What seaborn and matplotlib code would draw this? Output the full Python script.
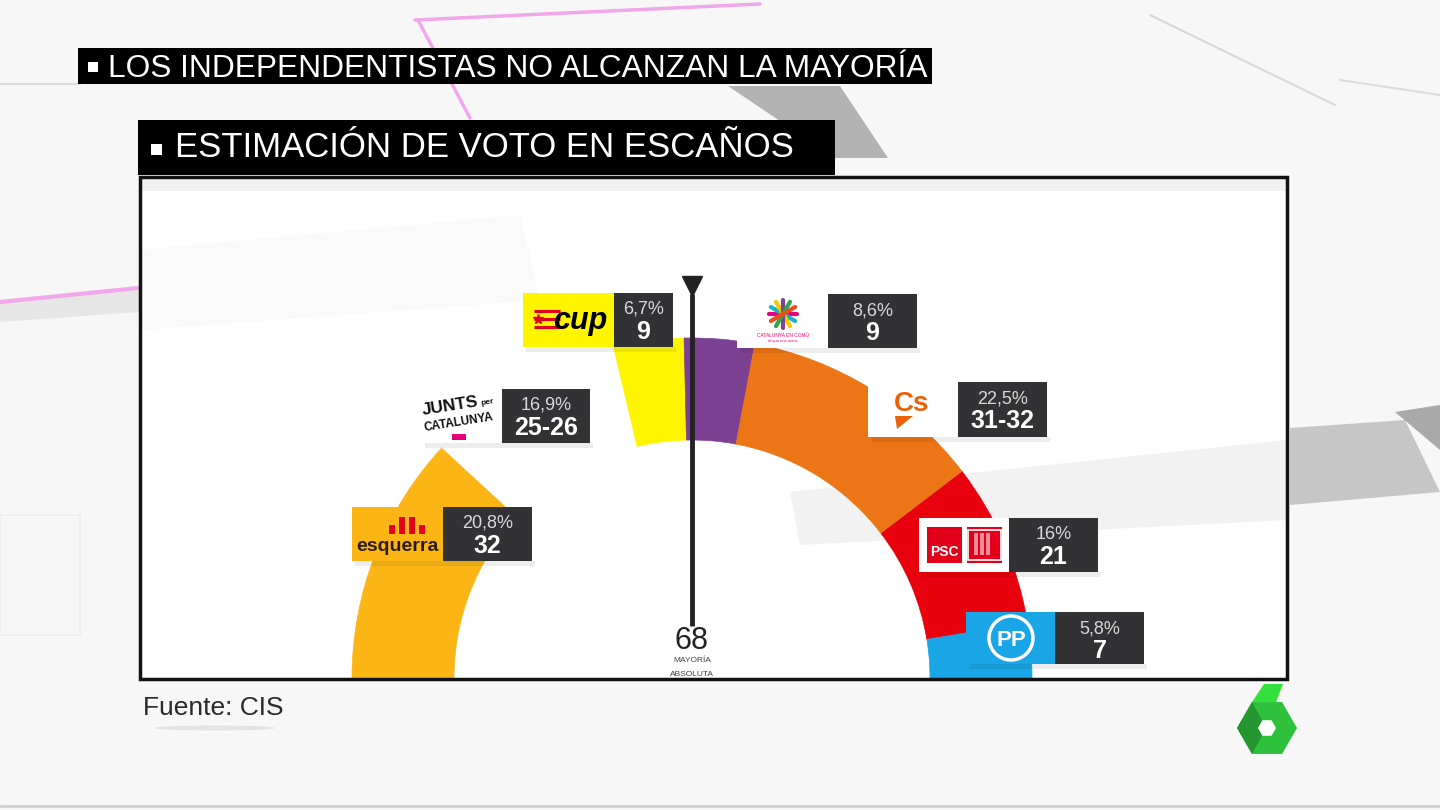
import numpy as np
import matplotlib.pyplot as plt
import matplotlib.patches as mpatches
import seaborn as sns

# Datos: estimacion CIS, escanos en el Parlament (135)
parties = ["ERC", "JxCat", "CUP", "CeC", "Cs", "PSC", "PP"]
seats = [32, 25.5, 9, 9, 31.5, 21, 7]
seat_labels = ["32", "25-26", "9", "9", "31-32", "21", "7"]
vote_share = ["20,8%", "16,9%", "6,7%", "8,6%", "22,5%", "16%", "5,8%"]
party_colors = ["#FBB616", "#FFFFFF", "#FFF500", "#7C4193", "#EC7515", "#E8000C", "#1AA6E6"]
total_seats = 135
majority = 68

title_main = "LOS INDEPENDENTISTAS NO ALCANZAN LA MAYORÍA"
title_sub = "ESTIMACIÓN DE VOTO EN ESCAÑOS"
source = "Fuente: CIS"

sns.set_theme(style="white")
plt.rcParams["font.family"] = ["Liberation Sans", "DejaVu Sans"]

W, H = 1440, 810
CX, CY, R_PX = 692, 678, 340        # centro del hemiciclo y radio exterior (px)
FRAME = (140, 177, 1287, 679)
R_IN = 0.70
DARK = "#323234"

# cajas: x logo, y arriba, x corte, x fin, y abajo (px)
BOXES = {
    "ERC": (352, 507, 443, 532, 561),
    "JxCat": (422, 389, 502, 590, 443),
    "CUP": (523, 293, 614, 673, 347),
    "CeC": (737, 294, 828, 917, 348),
    "Cs": (868, 382, 958, 1047, 437),
    "PSC": (919, 518, 1009, 1098, 572),
    "PP": (966, 612, 1055, 1144, 664),
}


def draw_background(ax):
    ax.add_patch(mpatches.Rectangle((0, 0), W, H, facecolor="#f7f7f7", lw=0))
    ax.add_patch(mpatches.Polygon([(1290, 428), (1405, 420), (1440, 492), (1290, 505)],
                                  closed=True, facecolor="#c6c6c6", lw=0))
    ax.add_patch(mpatches.Polygon([(1395, 412), (1440, 405), (1440, 450)],
                                  closed=True, facecolor="#a9a9a9", lw=0))
    ax.add_patch(mpatches.Polygon([(728, 86), (840, 86), (888, 158), (835, 158)],
                                  closed=True, facecolor="#b3b3b3", lw=0))
    ax.add_patch(mpatches.Polygon([(0, 300), (140, 288), (140, 312), (0, 322)],
                                  closed=True, facecolor="#e6e6e6", lw=0))
    ax.add_patch(mpatches.Rectangle((0, 515), 80, 120, facecolor="none",
                                    edgecolor="#eeeeee", lw=1.2))
    ax.plot([415, 760], [20, 4], color="#f2a6ec", lw=2.5)
    ax.plot([418, 470], [20, 118], color="#f2a6ec", lw=2.5)
    ax.plot([0, 138], [302, 288], color="#f2a6ec", lw=3)
    ax.plot([1150, 1335], [15, 105], color="#d8d8d8", lw=1.5)
    ax.plot([1340, 1440], [80, 95], color="#dcdcdc", lw=1.5)
    ax.plot([0, W], [806, 806], color="#cfcfcf", lw=2)
    ax.plot([0, 80], [84, 84], color="#dddddd", lw=1.5)
    # caja blanca del grafico (algo translucida)
    x0, y0, x1, y1 = FRAME
    ax.add_patch(mpatches.Rectangle((x0, y0), x1 - x0, y1 - y0, facecolor="white", lw=0))
    ax.add_patch(mpatches.Rectangle((x0, y0), x1 - x0, 14, facecolor="#f1f1f1", lw=0))
    ax.add_patch(mpatches.Polygon([(790, 492), (1287, 440), (1287, 520), (800, 545)],
                                  closed=True, facecolor="#f2f2f2", lw=0))
    ax.add_patch(mpatches.Polygon([(140, 250), (520, 215), (540, 300), (140, 330)],
                                  closed=True, facecolor="#fafafa", lw=0))


def draw_hemicycle(ax):
    start = 0.0
    for party, n, col in zip(parties, seats, party_colors):
        t2 = 180 - start / total_seats * 180
        t1 = 180 - (start + n) / total_seats * 180
        ax.add_patch(mpatches.Wedge((0, 0), 1.0, t1, t2, width=1 - R_IN,
                                    facecolor=col, edgecolor=col, lw=0.5))
        start += n

    # linea de mayoria absoluta
    theta = np.deg2rad(180 - (majority - 0.5) / total_seats * 180)
    xm = np.cos(theta)
    ax.plot([xm, xm], [(CY - 626) / R_PX, (CY - 294) / R_PX], color="#222222",
            lw=3.5, solid_capstyle="butt", zorder=5)
    ax.plot([xm], [(CY - 286) / R_PX], marker="v", markersize=15,
            color="#222222", zorder=6)
    ax.text(xm, (CY - 649) / R_PX, str(majority), ha="center", va="baseline",
            fontsize=22, color="#222222")
    ax.text(xm, (CY - 662) / R_PX, "MAYORÍA", ha="center", va="baseline",
            fontsize=6, color="#444444")
    ax.text(xm, (CY - 676) / R_PX, "ABSOLUTA", ha="center", va="baseline",
            fontsize=6, color="#444444")


def draw_logo(ax, party, x0, y0, x1, y1):
    w, h = x1 - x0, y1 - y0
    xc, yc = (x0 + x1) / 2, (y0 + y1) / 2
    if party == "ERC":
        ax.add_patch(mpatches.Rectangle((x0, y0), w, h, facecolor="#FBB616", lw=0))
        for bx, bh in zip([389, 399, 409, 419], [9, 17, 17, 9]):
            ax.add_patch(mpatches.Rectangle((bx, 534 - bh), 6, bh, facecolor="#E2001A", lw=0))
        ax.text(xc, 551, "esquerra", ha="center", va="baseline", fontsize=14,
                fontweight="bold", color="#2b1d0e")
    elif party == "JxCat":
        ax.add_patch(mpatches.Rectangle((x0, y0), w, h, facecolor="white", lw=0))
        ax.text(450, 415, "JUNTS", ha="center", va="baseline", fontsize=12.5,
                fontweight="bold", rotation=9, color="#111111")
        ax.text(487, 405, "per", ha="center", va="baseline", fontsize=6,
                fontweight="bold", rotation=9, color="#111111")
        ax.text(459, 431, "CATALUNYA", ha="center", va="baseline", fontsize=8.5,
                fontweight="bold", rotation=9, color="#111111")
        ax.add_patch(mpatches.Rectangle((452, 434), 14, 6, facecolor="#E6007E", lw=0))
    elif party == "CUP":
        ax.add_patch(mpatches.Rectangle((x0, y0), w, h, facecolor="#FFF500", lw=0))
        for yy in [311, 319, 327]:
            ax.plot([534, 560], [yy, yy], color="#E3001B", lw=2.2, solid_capstyle="butt")
        ax.plot([538], [319], marker="*", markersize=7, color="#E3001B")
        ax.text(580, 329, "cup", ha="center", va="baseline", fontsize=22,
                fontweight="bold", style="italic", color="black")
    elif party == "CeC":
        ax.add_patch(mpatches.Rectangle((x0, y0), w, h, facecolor="white", lw=0))
        cols = ["#E5007D", "#1BB4C4", "#F7C600", "#7E4293", "#2BA84A", "#E94E1B"]
        for ang, col in zip(np.arange(0, 180, 30), cols):
            a = np.deg2rad(ang)
            ax.plot([783 - 14 * np.cos(a), 783 + 14 * np.cos(a)],
                    [314 - 14 * np.sin(a), 314 + 14 * np.sin(a)], color=col, lw=3)
        ax.text(783, 337, "CATALUNYA EN COMÚ", ha="center", va="baseline",
                fontsize=3.5, color="#E5007D")
        ax.text(783, 342, "el que ens uneix", ha="center", va="baseline",
                fontsize=3, color="#E5007D")
    elif party == "Cs":
        ax.add_patch(mpatches.Rectangle((x0, y0), w, h, facecolor="white", lw=0))
        ax.text(894, 411, "Cs", ha="left", va="baseline", fontsize=20,
                fontweight="bold", color="#EB6109")
        ax.add_patch(mpatches.Polygon([(895, 416), (913, 416), (897, 429)],
                                      closed=True, facecolor="#EB6109", lw=0))
    elif party == "PSC":
        ax.add_patch(mpatches.Rectangle((x0, y0), w, h, facecolor="white", lw=0))
        ax.add_patch(mpatches.Rectangle((927, 527), 35, 36, facecolor="#E2001A", lw=0))
        ax.add_patch(mpatches.Rectangle((967, 527), 35, 36, facecolor="#E2001A", lw=0))
        ax.text(944.5, 556, "PSC", ha="center", va="baseline", fontsize=10,
                fontweight="bold", color="white")
        for xx in [974, 980, 986]:
            ax.add_patch(mpatches.Rectangle((xx, 533), 4, 22, facecolor="white",
                                            alpha=0.55, lw=0))
        ax.add_patch(mpatches.Rectangle((968, 530), 33, 30, facecolor="none",
                                        edgecolor="white", lw=1.2))
    elif party == "PP":
        ax.add_patch(mpatches.Rectangle((x0, y0), w, h, facecolor="#1AA6E6", lw=0))
        ax.add_patch(mpatches.Circle((1011, 638), 22, facecolor="none",
                                     edgecolor="white", lw=2.5))
        ax.text(1011, 646, "PP", ha="center", va="baseline", fontsize=16,
                fontweight="bold", color="white")


def draw_labels(ax):
    for party, pct, lab in zip(parties, vote_share, seat_labels):
        x0, y0, xs, x1, y1 = BOXES[party]
        ax.add_patch(mpatches.Rectangle((x0 + 3, y1), x1 - x0, 5, facecolor="black",
                                        alpha=0.07, lw=0))
        draw_logo(ax, party, x0, y0, xs, y1)
        ax.add_patch(mpatches.Rectangle((xs, y0), x1 - xs, y1 - y0, facecolor=DARK, lw=0))
        xm = (xs + x1) / 2
        ax.text(xm, y0 + 21, pct, ha="center", va="baseline", fontsize=13, color="#d9d9d9")
        ax.text(xm, y0 + 46, lab, ha="center", va="baseline", fontsize=18,
                fontweight="bold", color="white")


def draw_titles(ax):
    ax.add_patch(mpatches.Rectangle((78, 48), 854, 36, facecolor="black", lw=0))
    ax.add_patch(mpatches.Rectangle((88, 62), 10, 10, facecolor="white", lw=0))
    ax.text(108, 77, title_main, ha="left", va="baseline", fontsize=22.8, color="white")
    ax.add_patch(mpatches.Rectangle((138, 120), 697, 55, facecolor="black", lw=0))
    ax.add_patch(mpatches.Rectangle((151, 144), 11, 11, facecolor="white", lw=0))
    ax.text(175, 157, title_sub, ha="left", va="baseline", fontsize=25, color="white")
    # marco del grafico
    x0, y0, x1, y1 = FRAME
    ax.add_patch(mpatches.Rectangle((x0, y0), x1 - x0, y1 - y0, facecolor="none",
                                    edgecolor="#111111", lw=2.5))
    ax.text(143, 715, source, ha="left", va="baseline", fontsize=19, color="#2a2a2a")
    ax.add_patch(mpatches.Ellipse((215, 728), 120, 5, facecolor="black", alpha=0.08, lw=0))

    # logo laSexta
    ax.add_patch(mpatches.RegularPolygon((1267, 728), 6, radius=30, orientation=np.pi / 6,
                                         facecolor="#2fc13b", lw=0))
    ax.add_patch(mpatches.Polygon([(1252, 702), (1237, 728), (1252, 754), (1262, 736),
                                   (1262, 720)],
                                  closed=True, facecolor="#25962f", lw=0))
    ax.add_patch(mpatches.Polygon([(1252, 702), (1264, 684), (1283, 684), (1276, 702)],
                                  closed=True, facecolor="#33e03c", lw=0))
    ax.add_patch(mpatches.RegularPolygon((1267, 728), 6, radius=9, orientation=np.pi / 6,
                                         facecolor="white", lw=0))


def build_figure():
    fig = plt.figure(figsize=(W / 100, H / 100), dpi=100)

    bg = fig.add_axes([0, 0, 1, 1], label="bg")
    bg.set_xlim(0, W)
    bg.set_ylim(H, 0)
    bg.axis("off")
    bg.set_zorder(0)
    draw_background(bg)

    x0, y0, x1, y1 = FRAME
    ax = fig.add_axes([x0 / W, (H - y1) / H, (x1 - x0) / W, (y1 - y0) / H], label="chart")
    ax.set_xlim((x0 - CX) / R_PX, (x1 - CX) / R_PX)
    ax.set_ylim((CY - y1) / R_PX, (CY - y0) / R_PX)
    ax.set_facecolor("none")
    ax.axis("off")
    ax.set_zorder(1)
    draw_hemicycle(ax)

    fg = fig.add_axes([0, 0, 1, 1], label="fg")
    fg.set_xlim(0, W)
    fg.set_ylim(H, 0)
    fg.set_facecolor("none")
    fg.axis("off")
    fg.set_zorder(2)
    draw_labels(fg)
    draw_titles(fg)

    fig.savefig("out.png", dpi=100)
    plt.close(fig)


if __name__ == "__main__":
    build_figure()
